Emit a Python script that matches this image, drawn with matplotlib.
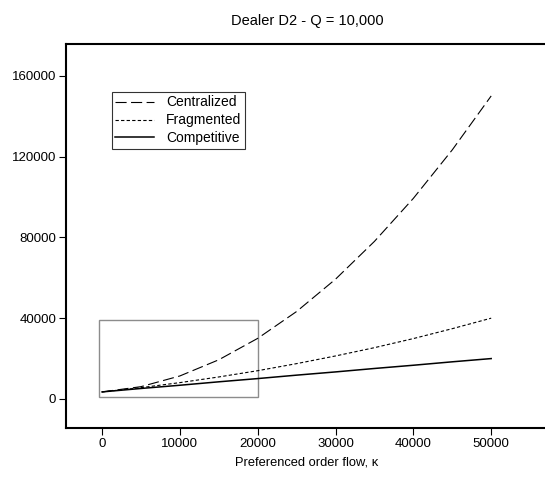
import matplotlib
matplotlib.use("Agg")
import matplotlib.pyplot as plt
from matplotlib.patches import Rectangle

plt.rcParams['font.family'] = ['Liberation Sans', 'DejaVu Sans']

# Données
kappa = [0, 5000, 10000, 15000, 20000, 25000, 30000, 35000, 40000, 45000, 50000]
centralized = [3500, 6100, 11400, 19400, 30000, 43300, 59300, 78000, 99300, 123300, 150000]
fragmented = [3500, 5600, 8100, 10900, 14000, 17500, 21300, 25400, 29900, 34800, 40000]
competitive = [3500, 5200, 6800, 8500, 10100, 11800, 13400, 15100, 16700, 18400, 20000]

x_ticks = [0, 10000, 20000, 30000, 40000, 50000]
y_ticks = [0, 40000, 80000, 120000, 160000]

# Zone de zoom (rectangle gris)
zoom_x = [-400, 20000]
zoom_y = [1000, 39000]

fig = plt.figure(figsize=(5.45, 4.83), dpi=100)
ax = fig.add_axes([66/545, 55/483, 482/545, 384/483])

ax.plot(kappa, centralized, color='black', linewidth=0.8,
        linestyle=(0, (10, 4)), label='Centralized')
ax.plot(kappa, fragmented, color='black', linewidth=0.8,
        linestyle=(0, (3, 2)), label='Fragmented')
ax.plot(kappa, competitive, color='black', linewidth=1.1,
        linestyle='-', label='Competitive')

ax.add_patch(Rectangle((zoom_x[0], zoom_y[0]), zoom_x[1] - zoom_x[0],
                       zoom_y[1] - zoom_y[0], fill=False,
                       edgecolor='#8c8c8c', linewidth=1.0))

ax.set_xlim(-4630, 57300)
ax.set_ylim(-14360, 175700)
ax.set_xticks(x_ticks)
ax.set_yticks(y_ticks)
ax.tick_params(labelsize=9.5, length=5, width=0.8, direction='out', pad=2)

ax.spines['right'].set_visible(False)
for s in ['left', 'top', 'bottom']:
    ax.spines[s].set_linewidth(1.5)

ax.set_xlabel('Preferenced order flow, κ', fontsize=9.3, labelpad=5)
ax.set_title('Dealer D2 - Q = 10,000', fontsize=10.5, pad=14)

leg = ax.legend(loc='upper left', bbox_to_anchor=(0.095, 0.875),
                fontsize=10, handlelength=2.8, frameon=True, fancybox=False,
                borderpad=0.25, labelspacing=0.28, handletextpad=0.85,
                borderaxespad=0)
leg.get_frame().set_edgecolor('black')
leg.get_frame().set_linewidth(0.8)

fig.savefig('out.png', dpi=100)
